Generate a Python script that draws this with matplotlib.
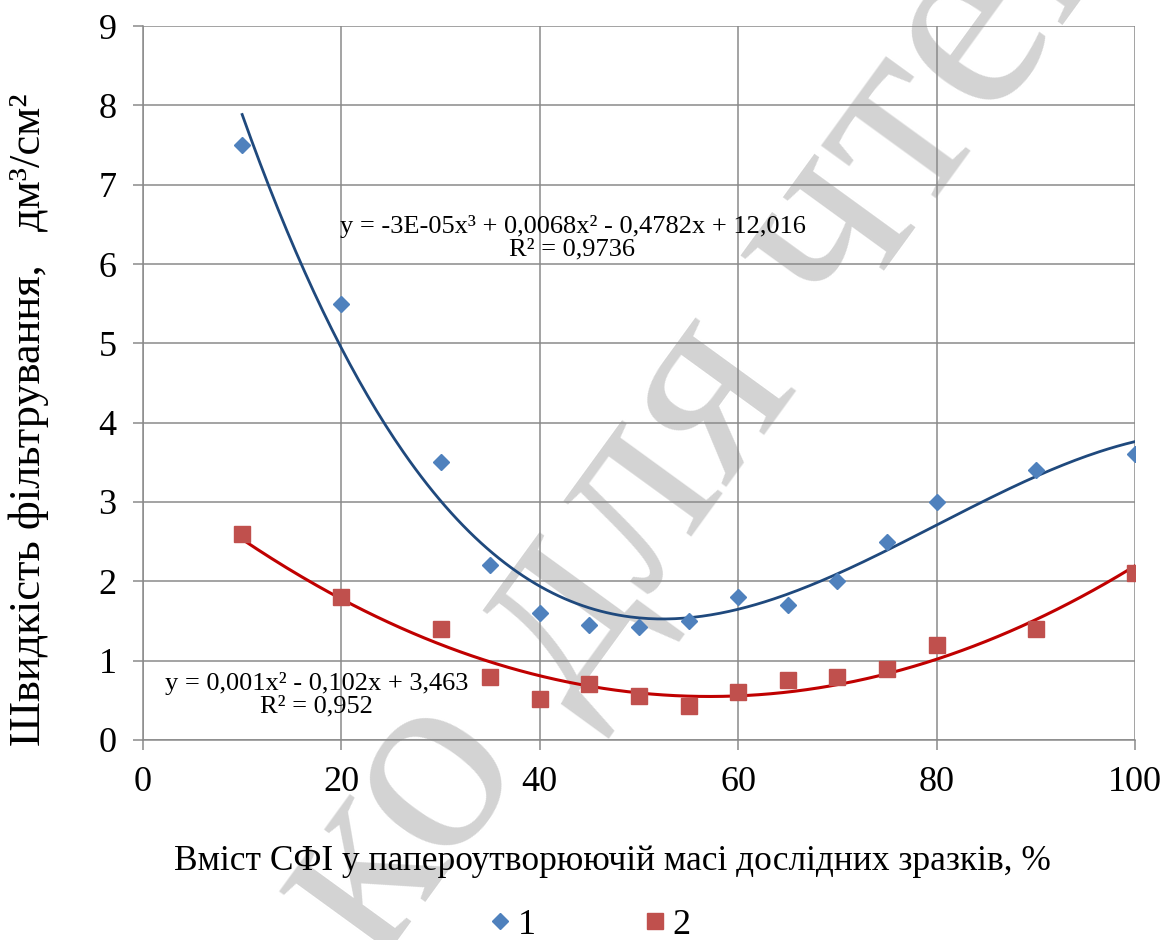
import numpy as np
import matplotlib
matplotlib.use("Agg")
import matplotlib.pyplot as plt
from matplotlib.lines import Line2D

plt.rcParams['font.family'] = ['Liberation Serif', 'DejaVu Serif']

# вміст СФІ, %
x1 = [10, 20, 30, 35, 40, 45, 50, 55, 60, 65, 70, 75, 80, 90, 100]
y1 = [7.5, 5.5, 3.5, 2.2, 1.6, 1.45, 1.42, 1.5, 1.8, 1.7, 2.0, 2.5, 3.0, 3.4, 3.6]
x2 = [10, 20, 30, 35, 40, 45, 50, 55, 60, 65, 70, 75, 80, 90, 100]
y2 = [2.6, 1.8, 1.4, 0.8, 0.52, 0.7, 0.55, 0.43, 0.6, 0.75, 0.8, 0.9, 1.2, 1.4, 2.1]

eq1 = "y = -3E-05x³ + 0,0068x² - 0,4782x + 12,016\nR² = 0,9736"
eq2 = "y = 0,001x² - 0,102x + 3,463\nR² = 0,952"

blue = '#4F81BD'
red = '#C0504D'
blue_line = '#1F497D'
red_line = '#C00000'
grid_c = '#8A8A8A'

fig = plt.figure(figsize=(11.68, 9.4), dpi=100)
ax = fig.add_axes([0.1224, 0.2128, 0.8493, 0.7595])
ax.set_facecolor('none')

# напис-водяний знак під усіма елементами
fig.text(0.585, 0.418, "Только для чтения", fontsize=195, color='#D3D3D3',
         rotation=54, rotation_mode='anchor', ha='center', va='baseline',
         zorder=-1)

# поліноміальні лінії тренду
xs = np.linspace(min(x1), max(x1), 300)
p1 = np.polyfit(x1, y1, 3)
p2 = np.polyfit(x2, y2, 2)
ax.plot(xs, np.polyval(p1, xs), color=blue_line, lw=2.0, zorder=3)
ax.plot(xs, np.polyval(p2, xs), color=red_line, lw=2.2, zorder=3)

ax.plot(x1, y1, 'D', color=blue, ms=8.2, mec=blue, zorder=4)
ax.plot(x2, y2, 's', color=red, ms=12, mec=red, zorder=4)

ax.text(43.3, 6.33, eq1, fontsize=19, ha='center', va='center', linespacing=1.05, zorder=5)
ax.text(17.5, 0.57, eq2, fontsize=19, ha='center', va='center', linespacing=1.05, zorder=5)

ax.set_xlim(0, 100)
ax.set_ylim(0, 9)
ax.set_xticks(range(0, 101, 20))
ax.set_yticks(range(0, 10))
ax.grid(True, color=grid_c, lw=1.1)
ax.set_axisbelow(True)
for s in ['top', 'right']:
    ax.spines[s].set_visible(False)
for s in ['left', 'bottom']:
    ax.spines[s].set_color(grid_c)
    ax.spines[s].set_linewidth(1.1)
ax.tick_params(axis='both', labelsize=26, color=grid_c, width=1.1, length=7)
ax.tick_params(axis='x', pad=12)
ax.tick_params(axis='y', pad=12)

fig.text(0.524, 0.083, "Вміст СФІ у папероутворюючій масі дослідних зразків, %",
         fontsize=25.5, ha='center', va='center')
fig.text(0.025, 0.553, "Швидкість фільтрування,   дм³/см²", fontsize=32,
         rotation=90, ha='center', va='center')

handles = [Line2D([], [], ls='none', marker='D', color=blue, ms=8.2),
           Line2D([], [], ls='none', marker='s', color=red, ms=12)]
fig.legend(handles, ['1', '2'], loc='center', bbox_to_anchor=(0.505, 0.016),
           ncol=2, frameon=False, fontsize=26, handlelength=0.6,
           handletextpad=0.2, columnspacing=3.0, borderpad=0)

fig.savefig('out.png', dpi=100)
